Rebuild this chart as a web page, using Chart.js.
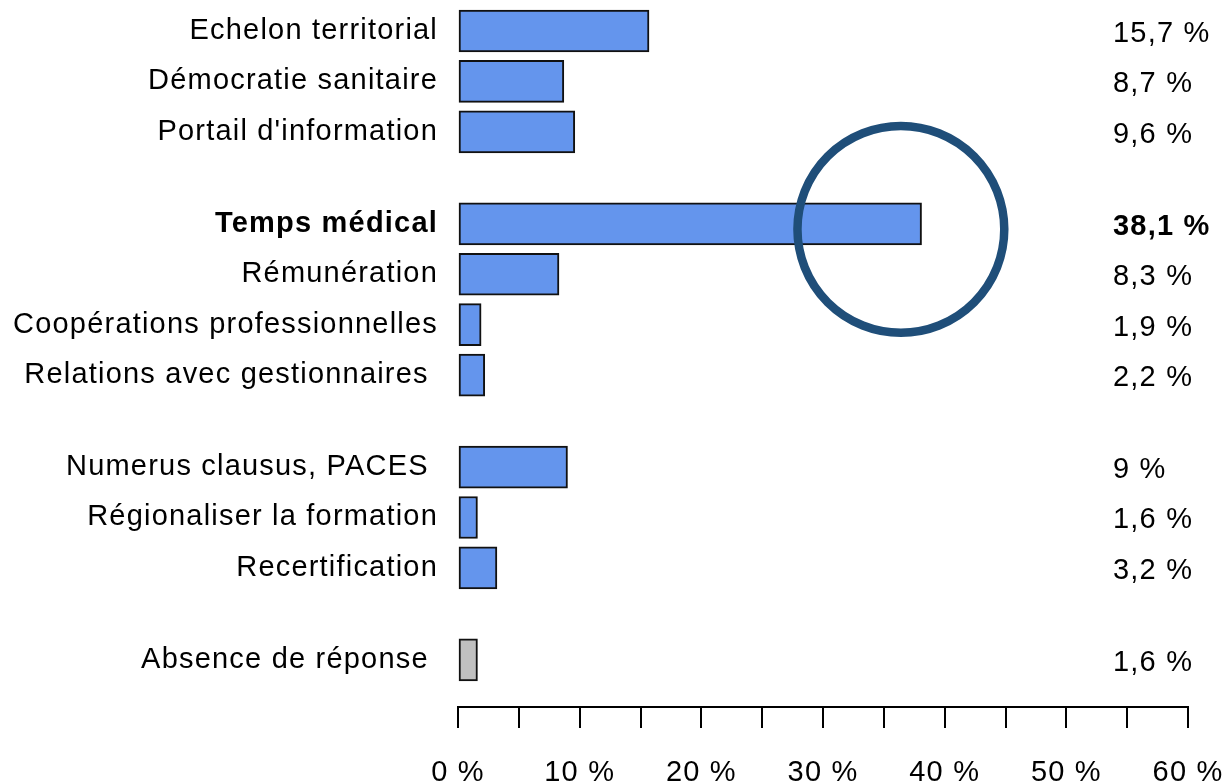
<!DOCTYPE html>
<html>
<head>
<meta charset="utf-8">
<script src="https://cdn.jsdelivr.net/npm/chart.js@4/dist/chart.umd.min.js"></script>
<style>
  html, body { margin: 0; padding: 0; background: #fff; }
  canvas { display: block; }
</style>
</head>
<body>
<canvas id="barChart" width="1228" height="784"></canvas>
<script>
// categories, grouped in blocks separated by an empty row
const categories = [
  'Echelon territorial', 'Démocratie sanitaire', "Portail d'information",
  'Temps médical', 'Rémunération', 'Coopérations professionnelles', 'Relations avec gestionnaires ',
  'Numerus clausus, PACES ', 'Régionaliser la formation', 'Recertification',
  'Absence de réponse '
];
const groups = [0, 0, 0, 1, 1, 1, 1, 2, 2, 2, 3];
const values = [15.7, 8.7, 9.6, 38.1, 8.3, 1.9, 2.2, 9, 1.6, 3.2, 1.6];
const highlighted = 'Temps médical';
const xTicks = [0, 10, 20, 30, 40, 50, 60];

const GAP = 0.825; // extra space between blocks, in rows
const rowPos = categories.map((c, i) => i + groups[i] * GAP);

const FONT = '"Liberation Sans", Arial, sans-serif';
const fmt = v => String(v).replace('.', ',') + ' %';

// the source text is a little wider than Liberation Sans
const spacing = {
  id: 'spacing',
  beforeLayout(chart) { chart.ctx.letterSpacing = '1.2px'; },
  beforeDraw(chart) { chart.ctx.letterSpacing = '1.2px'; }
};

const valueLabels = {
  id: 'valueLabels',
  afterDatasetsDraw(chart) {
    const ctx = chart.ctx;
    const meta = chart.getDatasetMeta(0);
    const x0 = chart.chartArea.right - 75;
    ctx.save();
    ctx.fillStyle = '#000';
    ctx.textBaseline = 'middle';
    ctx.textAlign = 'left';
    meta.data.forEach((bar, i) => {
      const bold = categories[i] === highlighted;
      ctx.font = (bold ? 'bold ' : '') + '29px ' + FONT;
      ctx.fillText(fmt(values[i]), x0, bar.y + 3);
    });
    ctx.restore();
  }
};

const highlightCircle = {
  id: 'highlightCircle',
  afterDraw(chart) {
    const xs = chart.scales.x, ys = chart.scales.y;
    const i = categories.indexOf(highlighted);
    const cx = xs.getPixelForValue(36.4);
    const cy = ys.getPixelForValue(rowPos[i] + 0.11);
    const r = xs.getPixelForValue(8.5) - xs.getPixelForValue(0);
    const ctx = chart.ctx;
    ctx.save();
    ctx.strokeStyle = '#1F4E79';
    ctx.lineWidth = 8.5;
    ctx.beginPath();
    ctx.arc(cx, cy, r, 0, Math.PI * 2);
    ctx.stroke();
    ctx.restore();
  }
};

Chart.defaults.font.family = FONT;
Chart.defaults.font.size = 29;
Chart.defaults.color = '#000';

new Chart(document.getElementById('barChart'), {
  type: 'bar',
  data: {
    datasets: [{
      data: values.map((v, i) => ({ x: v, y: rowPos[i] })),
      backgroundColor: categories.map(c => c.startsWith('Absence') ? '#C0C0C0' : '#6495ED'),
      borderColor: '#111',
      borderWidth: 2,
      borderSkipped: false,
      barThickness: 42
    }]
  },
  options: {
    indexAxis: 'y',
    responsive: false,
    animation: false,
    layout: { padding: { top: 0, right: 40, bottom: 0, left: 0 } },
    plugins: { legend: { display: false }, tooltip: { enabled: false } },
    scales: {
      x: {
        type: 'linear',
        min: 0,
        max: 60,
        ticks: {
          stepSize: 5,
          padding: 28,
          maxRotation: 0,
          autoSkip: false,
          callback: v => xTicks.includes(v) ? v + ' %' : ''
        },
        grid: { drawOnChartArea: false, drawTicks: true, tickLength: 21, color: '#000', lineWidth: 2 },
        border: { display: true, color: '#000', width: 2 },
        afterFit: s => { s.height = 77; s.paddingLeft = 0; s.paddingRight = 0; }
      },
      y: {
        type: 'linear',
        reverse: true,
        offset: false,
        min: -0.615,
        max: 13.41,
        afterBuildTicks: s => { s.ticks = rowPos.map(p => ({ value: p })); },
        ticks: {
          padding: 20,
          autoSkip: false,
          callback: (v, idx) => categories[idx],
          font: ctx => ({ weight: categories[ctx.index] === highlighted ? 'bold' : 'normal' })
        },
        grid: { display: false, drawTicks: false },
        border: { display: false },
        afterFit: s => { s.width = 458; s.paddingTop = 0; s.paddingBottom = 0; }
      }
    }
  },
  plugins: [spacing, valueLabels, highlightCircle]
});
</script>
</body>
</html>
